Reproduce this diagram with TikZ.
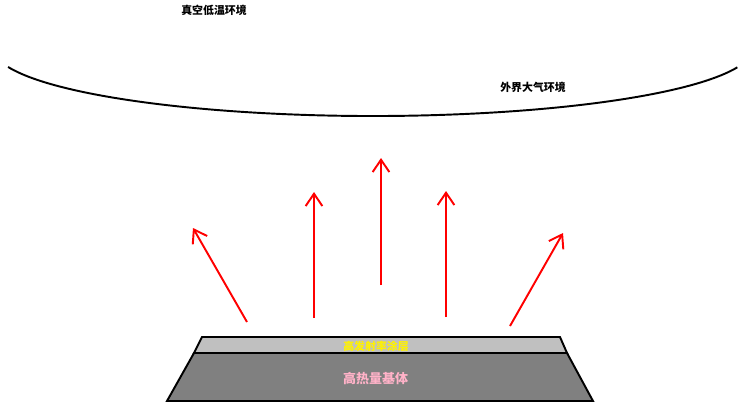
\documentclass[tikz,border=0pt]{standalone}
\usepackage{fontspec}
\newfontfamily\cjk{Noto Sans CJK SC}
\usetikzlibrary{arrows.meta}
\definecolor{coatgray}{RGB}{192,192,192}
\definecolor{basegray}{RGB}{128,128,128}
\definecolor{basepink}{RGB}{255,178,200}
\tikzset{
  ray/.style={draw=red, line width=1.1pt, -{Straight Barb[length=7pt,width=9.5pt,line width=1.1pt]}},
  label/.style={font=\cjk\bfseries\fontsize{6.2}{7}\selectfont, inner sep=0pt}
}

\begin{document}
\begin{tikzpicture}[x=0.02cm, y=-0.02cm]
\useasboundingbox (0,0) rectangle (750,417);
% environment
\draw[line width=1.1pt] (373,48) ++(163.8:380 and 68) arc (163.8:16.5:380 and 68);
\node[label] (vac) at (214,10) {真空低温环境};
\node[label] (atm) at (533,87) {外界大气环境};
%
\draw[ray](247,322)--(193,228);
\draw[ray](314,318)--(314,192);
\draw[ray](381,285)--(381,158);
\draw[ray](446,317)--(446,191);
\draw[ray](510,326)--(563,233);
% slab
\draw[fill=basegray, line width=1.1pt](194,353)--(567,353)--(593,401)--(167,401)--cycle;
\draw[fill=coatgray, line width=1.1pt](202,337)--(560,337)--(567,353)--(194,353)--cycle;
\node[label, text=yellow] (coat) at (376,346) {高发射率涂层};
\node[label, text=basepink, font=\cjk\bfseries\fontsize{7.4}{8}\selectfont] (base) at (375.5,379) {高热量基体};
\end{tikzpicture}
\end{document}
